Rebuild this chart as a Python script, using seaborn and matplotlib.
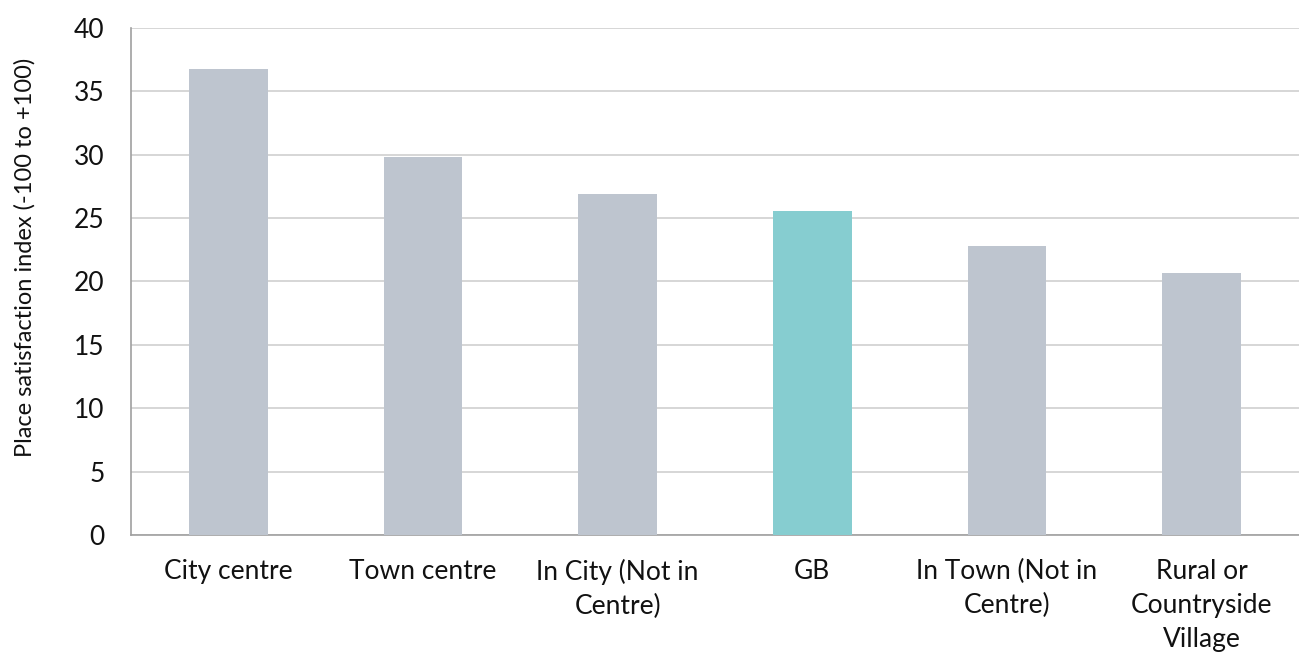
import matplotlib
matplotlib.use("Agg")
import matplotlib.pyplot as plt
import seaborn as sns
import pandas as pd

categories = ["City centre", "Town centre", "In City (Not in\nCentre)", "GB",
              "In Town (Not in\nCentre)", "Rural or\nCountryside\nVillage"]
values = [36.8, 29.8, 26.9, 25.6, 22.8, 20.7]
bar_colors = ["#bec5cf", "#bec5cf", "#bec5cf", "#86cdd0", "#bec5cf", "#bec5cf"]

df = pd.DataFrame({"place": categories, "score": values})

sns.set_style("white")
plt.rcParams["font.family"] = ["Lato", "DejaVu Sans"]

fig = plt.figure(figsize=(12.99, 6.57), dpi=100)
ax = fig.add_axes([0.1008, 0.1857, 0.8992, 0.7717])

sns.barplot(data=df, x="place", y="score", hue="place", palette=bar_colors,
            width=0.405, saturation=1, linewidth=0, legend=False, ax=ax, zorder=3)

ax.set_ylim(0, 40)
ax.set_xlim(-0.5, 5.5)
ax.set_yticks(range(0, 41, 5))
ax.yaxis.grid(True, color="#d0d0d0", linewidth=1.2, zorder=0)
ax.set_axisbelow(True)
for s in ["top", "right"]:
    ax.spines[s].set_visible(False)
ax.spines["left"].set_color("#a0a0a0")
ax.spines["bottom"].set_color("#a0a0a0")
ax.spines["left"].set_linewidth(1.2)
ax.spines["bottom"].set_linewidth(1.2)
ax.tick_params(axis="y", length=0, labelsize=19, pad=19, colors="#111111")
ax.tick_params(axis="x", length=0, labelsize=19, pad=17, colors="#111111")
ax.set_xlabel("")
ax.set_ylabel("Place satisfaction index (-100 to +100)", fontsize=17,
              color="#111111")
ax.yaxis.set_label_coords(-0.082, 0.548)
for lbl in ax.get_xticklabels():
    lbl.set_linespacing(1.45)

fig.savefig("out.png", dpi=100)
